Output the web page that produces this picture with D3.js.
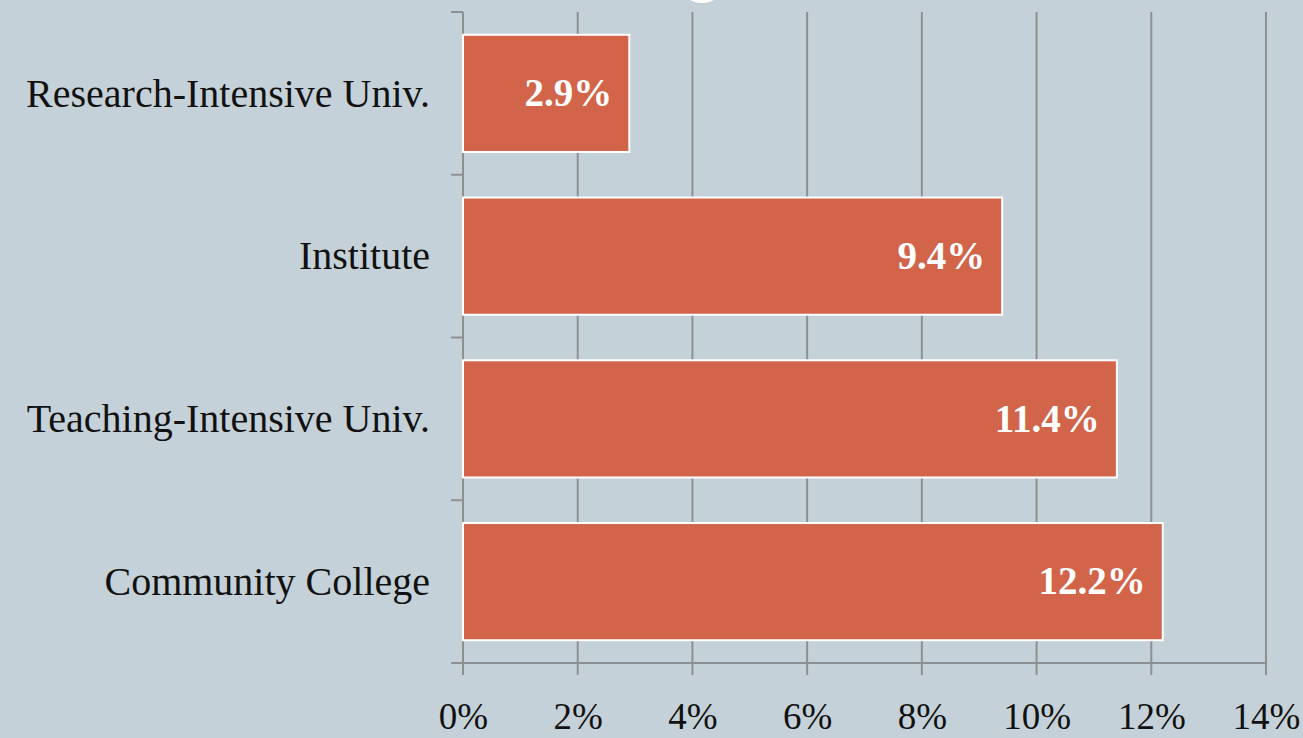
<!DOCTYPE html>
<html>
<head>
<meta charset="utf-8">
<script src="https://cdn.jsdelivr.net/npm/d3@7"></script>
<style>
  html, body { margin: 0; padding: 0; background: #c5d1d8; }
  svg { display: block; }
  .tick text { font-family: "Liberation Serif", Georgia, serif; }
</style>
</head>
<body>
<script>
// Chart values
const categories = ['Research-Intensive Univ.', 'Institute', 'Teaching-Intensive Univ.', 'Community College'];
const values = [2.9, 9.4, 11.4, 12.2];
const xTicks = [0, 2, 4, 6, 8, 10, 12, 14];

const W = 1303, H = 738;
const margin = { top: 12, right: 37, bottom: 75, left: 463 };
const width = W - margin.left - margin.right;
const height = H - margin.top - margin.bottom;

const svg = d3.select('body').append('svg')
    .attr('width', W)
    .attr('height', H);

// background
svg.append('rect')
    .attr('width', W)
    .attr('height', H)
    .attr('fill', '#c5d1d8');

// bit of a white shape peeking in at the top
svg.append('ellipse')
    .attr('cx', 702)
    .attr('cy', -15)
    .attr('rx', 21)
    .attr('ry', 18)
    .attr('fill', '#ffffff');

const g = svg.append('g')
    .attr('transform', `translate(${margin.left},${margin.top})`);

const x = d3.scaleLinear().domain([0, 14]).range([0, width]);
const y = d3.scaleBand().domain(categories).range([0, height]).paddingInner(0.28).paddingOuter(0.14);

const gridColor = '#8d9093';

// vertical gridlines (with ticks hanging below the axis)
g.append('g')
    .selectAll('line')
    .data(xTicks)
    .join('line')
    .attr('x1', d => x(d))
    .attr('x2', d => x(d))
    .attr('y1', 0)
    .attr('y2', height + 12)
    .attr('stroke', gridColor)
    .attr('stroke-width', 2);

// bottom axis
const xAxis = d3.axisBottom(x)
    .tickValues(xTicks)
    .tickFormat(d => d + '%')
    .tickSize(0)
    .tickPadding(40);

const xg = g.append('g')
    .attr('transform', `translate(0,${height})`)
    .call(xAxis);
xg.select('.domain').remove();
xg.selectAll('text')
    .attr('font-size', 37)
    .attr('fill', '#111');

g.append('line')
    .attr('x1', -12)
    .attr('x2', x(14))
    .attr('y1', height)
    .attr('y2', height)
    .attr('stroke', gridColor)
    .attr('stroke-width', 2);

// left axis line with ticks at band boundaries
g.append('line')
    .attr('x1', 0).attr('x2', 0)
    .attr('y1', 0).attr('y2', height)
    .attr('stroke', gridColor)
    .attr('stroke-width', 2);

const bounds = d3.range(categories.length + 1).map(i => i * height / categories.length);
g.append('g')
    .selectAll('line')
    .data(bounds)
    .join('line')
    .attr('x1', -12).attr('x2', 0)
    .attr('y1', d => d).attr('y2', d => d)
    .attr('stroke', gridColor)
    .attr('stroke-width', 2);

// bars
const data = categories.map((c, i) => ({ cat: c, val: values[i] }));

g.selectAll('rect.bar')
    .data(data)
    .join('rect')
    .attr('class', 'bar')
    .attr('x', 0)
    .attr('y', d => y(d.cat))
    .attr('width', d => x(d.val))
    .attr('height', y.bandwidth())
    .attr('fill', '#d2644a')
    .attr('stroke', '#ffffff')
    .attr('stroke-width', 2);

// value labels inside bars
g.selectAll('text.val')
    .data(data)
    .join('text')
    .attr('class', 'val')
    .attr('x', d => x(d.val) - 17)
    .attr('y', d => y(d.cat) + y.bandwidth() / 2)
    .attr('dy', '0.33em')
    .attr('text-anchor', 'end')
    .attr('font-family', '"Liberation Serif", Georgia, serif')
    .attr('font-weight', 'bold')
    .attr('font-size', 39)
    .attr('fill', '#ffffff')
    .text(d => d.val.toFixed(1) + '%');

// category labels
g.selectAll('text.cat')
    .data(data)
    .join('text')
    .attr('class', 'cat')
    .attr('x', -33)
    .attr('y', d => y(d.cat) + y.bandwidth() / 2)
    .attr('dy', '0.33em')
    .attr('text-anchor', 'end')
    .attr('font-family', '"Liberation Serif", Georgia, serif')
    .attr('font-size', 40)
    .attr('fill', '#111')
    .text(d => d.cat);
</script>
</body>
</html>
